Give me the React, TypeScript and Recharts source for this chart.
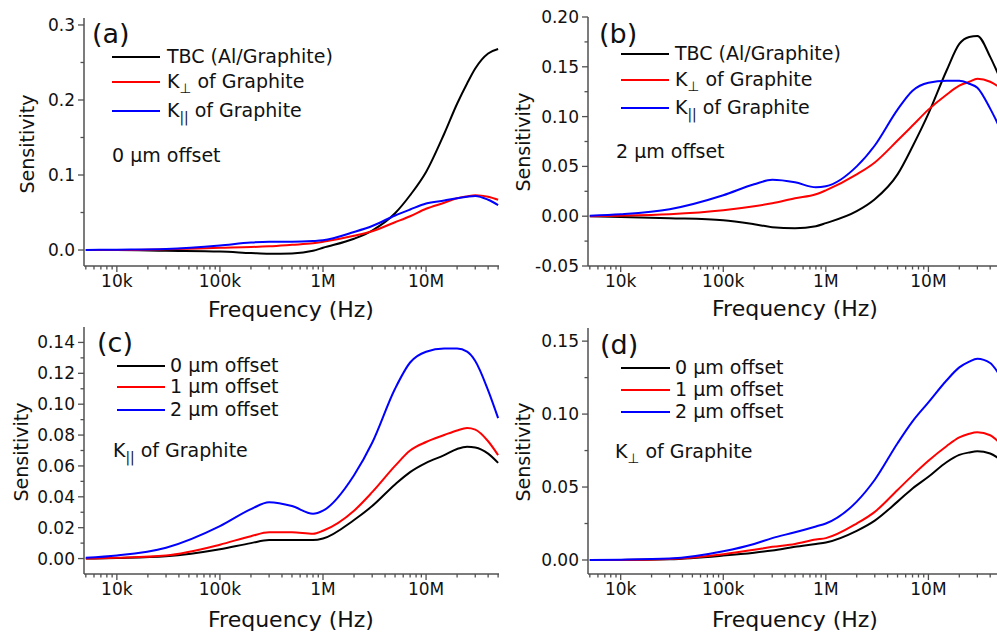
import React from 'react';
import { LineChart, Line, XAxis, YAxis } from 'recharts';

// ---------- data ----------
const FREQ = [5e3, 1e4, 3e4, 1e5, 2e5, 3e5, 5e5, 8e5, 1e6, 2e6, 3e6, 5e6, 7e6, 1e7, 1.5e7, 2e7, 2.5e7, 3e7, 4e7, 5e7];

// (a) 0 um offset
const A_TBC = [0, 0, -0.001, -0.002, -0.004, -0.005, -0.0045, -0.001, 0.003, 0.015, 0.026, 0.049, 0.073, 0.104, 0.155, 0.195, 0.222, 0.242, 0.262, 0.268];
const A_KPERP = [0, 0, 0.001, 0.003, 0.004, 0.005, 0.007, 0.009, 0.011, 0.019, 0.025, 0.037, 0.045, 0.055, 0.063, 0.069, 0.0715, 0.073, 0.071, 0.067];
const A_KPAR = [0, 0.0005, 0.0015, 0.006, 0.01, 0.011, 0.011, 0.012, 0.013, 0.024, 0.032, 0.046, 0.054, 0.062, 0.066, 0.069, 0.071, 0.072, 0.067, 0.06];

// (b) 2 um offset
const B_TBC = [0, -0.0007, -0.002, -0.004, -0.008, -0.011, -0.012, -0.01, -0.007, 0.005, 0.017, 0.042, 0.07, 0.103, 0.146, 0.173, 0.18, 0.181, 0.16, 0.138];
const B_KPERP = [0, 0.0005, 0.002, 0.006, 0.01, 0.013, 0.018, 0.022, 0.026, 0.042, 0.054, 0.076, 0.091, 0.107, 0.122, 0.131, 0.135, 0.138, 0.135, 0.129];
const B_KPAR = [0.0005, 0.002, 0.007, 0.021, 0.032, 0.0365, 0.034, 0.029, 0.03, 0.05, 0.071, 0.107, 0.126, 0.134, 0.136, 0.136, 0.133, 0.129, 0.108, 0.088];

// (c) K|| of graphite, offsets 0/1/2 um
const C_OFF0 = [0, 0.0004, 0.0015, 0.006, 0.01, 0.012, 0.012, 0.012, 0.013, 0.025, 0.034, 0.048, 0.056, 0.062, 0.067, 0.071, 0.0725, 0.072, 0.068, 0.062];
const C_OFF1 = [0, 0.0005, 0.002, 0.009, 0.0145, 0.017, 0.017, 0.016, 0.018, 0.031, 0.043, 0.06, 0.07, 0.0755, 0.08, 0.083, 0.0845, 0.0835, 0.076, 0.067];
const C_OFF2 = [0.0005, 0.002, 0.007, 0.021, 0.032, 0.0365, 0.034, 0.029, 0.031, 0.054, 0.075, 0.11, 0.127, 0.134, 0.136, 0.136, 0.134, 0.128, 0.109, 0.091];

// (d) K_perp of graphite, offsets 0/1/2 um
const D_OFF0 = [0, 0, 0.0005, 0.003, 0.005, 0.0065, 0.009, 0.011, 0.012, 0.02, 0.027, 0.04, 0.049, 0.057, 0.067, 0.072, 0.0737, 0.0745, 0.073, 0.069];
const D_OFF1 = [0, 0, 0.0007, 0.004, 0.007, 0.009, 0.011, 0.014, 0.015, 0.025, 0.033, 0.048, 0.058, 0.068, 0.078, 0.084, 0.0865, 0.0875, 0.0855, 0.08];
const D_OFF2 = [0, 0.0002, 0.001, 0.006, 0.011, 0.015, 0.019, 0.023, 0.025, 0.04, 0.055, 0.08, 0.095, 0.108, 0.123, 0.132, 0.136, 0.138, 0.135, 0.126];

// ---------- ticks ----------
const X_MAJOR = [1e4, 1e5, 1e6, 1e7];
const X_LABELS = ['10k', '100k', '1M', '10M'];
const X_MINOR: number[] = [];
[1e3, 1e4, 1e5, 1e6, 1e7].forEach((d) => {
  for (let k = 2; k <= 9; k++) {
    const v = k * d;
    if (v >= 4.9e3 && v <= 5.05e7) X_MINOR.push(v);
  }
});
const X_DOMAIN = [4.8e3, 5.1e7];

const A_YMAJOR = [0, 0.1, 0.2, 0.3];
const A_YMINOR = [0.05, 0.15, 0.25];
const B_YMAJOR = [-0.05, 0, 0.05, 0.1, 0.15, 0.2];
const B_YMINOR = [-0.025, 0.025, 0.075, 0.125, 0.175];
const C_YMAJOR = [0, 0.02, 0.04, 0.06, 0.08, 0.1, 0.12, 0.14];
const C_YMINOR = [0.01, 0.03, 0.05, 0.07, 0.09, 0.11, 0.13];
const D_YMAJOR = [0, 0.05, 0.1, 0.15];
const D_YMINOR = [0.025, 0.075, 0.125];

const FONT = "'DejaVu Sans', 'Liberation Sans', sans-serif";
const AX = '#505050';
const TXT = '#111';

const Y_AXIS_W = 60;
const X_AXIS_H = 40;

function rows(series: number[][]) {
  return FREQ.map((f, i) => {
    const r: any = { f };
    series.forEach((s, j) => (r['s' + j] = s[i]));
    return r;
  });
}

function XTick(props: any) {
  const { x, y, payload } = props;
  const v = payload.value;
  const idx = X_MAJOR.findIndex((m) => Math.abs(m - v) / m < 1e-6);
  const major = idx >= 0;
  return (
    <g>
      <line x1={x} x2={x} y1={y} y2={y + (major ? 6 : 3.5)} stroke={AX} strokeWidth={1.3} />
      {major && (
        <text x={x} y={y + 21} textAnchor="middle" fontSize={17} fontFamily={FONT} fill={TXT}>
          {X_LABELS[idx]}
        </text>
      )}
    </g>
  );
}

function makeYTick(majors: number[], digits: number) {
  return (props: any) => {
    const { x, y, payload } = props;
    const v = payload.value;
    const major = majors.some((m) => Math.abs(m - v) < 1e-9);
    return (
      <g>
        <line x1={x} x2={x - (major ? 6 : 3.5)} y1={y} y2={y} stroke={AX} strokeWidth={1.3} />
        {major && (
          <text x={x - 9} y={y + 6} textAnchor="end" fontSize={17} fontFamily={FONT} fill={TXT}>
            {v.toFixed(digits)}
          </text>
        )}
      </g>
    );
  };
}

type PanelProps = {
  left: number;
  top: number;
  width: number;
  height: number;
  plot: { top: number; right: number; bottom: number; left: number };
  yDomain: number[];
  yMajor: number[];
  yMinor: number[];
  digits: number;
  series: number[][];
  colors: string[];
};

function Panel(p: PanelProps) {
  const data = rows(p.series);
  const YT = makeYTick(p.yMajor, p.digits);
  const margin = {
    top: p.plot.top,
    right: p.plot.right,
    bottom: p.plot.bottom - X_AXIS_H,
    left: p.plot.left - Y_AXIS_W,
  };
  return (
    <div style={{ position: 'absolute', left: p.left, top: p.top, width: p.width, height: p.height }}>
      <LineChart width={p.width} height={p.height} data={data} margin={margin}>
        <XAxis
          dataKey="f"
          type="number"
          scale="log"
          domain={X_DOMAIN}
          allowDataOverflow
          ticks={[...X_MAJOR, ...X_MINOR]}
          interval={0}
          tick={<XTick />}
          tickSize={0}
          tickMargin={0}
          tickLine={false}
          height={X_AXIS_H}
          axisLine={{ stroke: AX, strokeWidth: 1.5 }}
        />
        <YAxis
          type="number"
          domain={p.yDomain}
          allowDataOverflow
          ticks={[...p.yMajor, ...p.yMinor]}
          interval={0}
          tick={<YT />}
          tickSize={0}
          tickMargin={0}
          tickLine={false}
          width={Y_AXIS_W}
          axisLine={{ stroke: AX, strokeWidth: 1.5 }}
        />
        {p.series.map((_, j) => (
          <Line
            key={j}
            dataKey={'s' + j}
            type="monotone"
            stroke={p.colors[j]}
            strokeWidth={2}
            dot={false}
            isAnimationActive={false}
          />
        ))}
      </LineChart>
    </div>
  );
}

const COLORS = ['#000000', '#ff0000', '#0000ff'];

function KLabel({ x, y, sub, size }: { x: number; y: number; sub: string; size: number }) {
  return (
    <text x={x} y={y} fontSize={size} fontFamily={FONT} fill={TXT}>
      K
      <tspan fontSize={size * 0.72} dy={5}>
        {sub}
      </tspan>
      <tspan dy={-5} fontSize={size}>
        {' of Graphite'}
      </tspan>
    </text>
  );
}

function LegendRow({ x1, x2, y, color }: { x1: number; x2: number; y: number; color: string }) {
  return <line x1={x1} x2={x2} y1={y} y2={y} stroke={color} strokeWidth={2} />;
}

function Overlay() {
  const legendSize = 19;
  return (
    <svg width={997} height={635} style={{ position: 'absolute', left: 0, top: 0, pointerEvents: 'none' }}>
      {/* panel letters */}
      <text x={92} y={43} fontSize={27} fontFamily={FONT} fill={TXT}>(a)</text>
      <text x={599} y={43} fontSize={27} fontFamily={FONT} fill={TXT}>(b)</text>
      <text x={97} y={352} fontSize={27} fontFamily={FONT} fill={TXT}>(c)</text>
      <text x={600} y={354} fontSize={27} fontFamily={FONT} fill={TXT}>(d)</text>

      {/* axis titles */}
      {[
        [291, 317],
        [795, 316],
        [291, 627],
        [795, 627],
      ].map(([cx, cy], i) => (
        <text key={'fx' + i} x={cx} y={cy} textAnchor="middle" fontSize={22} fontFamily={FONT} fill={TXT}>
          Frequency (Hz)
        </text>
      ))}
      {[
        [34, 144],
        [530, 142],
        [28, 452],
        [530, 452],
      ].map(([cx, cy], i) => (
        <text
          key={'sy' + i}
          x={cx}
          y={cy}
          textAnchor="middle"
          fontSize={19}
          fontFamily={FONT}
          fill={TXT}
          transform={`rotate(-90 ${cx} ${cy})`}
        >
          Sensitivity
        </text>
      ))}

      {/* legend (a) */}
      <LegendRow x1={112} x2={160} y={57} color={COLORS[0]} />
      <LegendRow x1={112} x2={160} y={82} color={COLORS[1]} />
      <LegendRow x1={112} x2={160} y={111} color={COLORS[2]} />
      <text x={167} y={63} fontSize={legendSize} fontFamily={FONT} fill={TXT}>TBC (Al/Graphite)</text>
      <KLabel x={167} y={88} sub="⊥" size={legendSize} />
      <KLabel x={167} y={117} sub="||" size={legendSize} />
      <text x={112} y={162} fontSize={legendSize} fontFamily={FONT} fill={TXT}>0 µm offset</text>

      {/* legend (b) */}
      <LegendRow x1={621} x2={669} y={54} color={COLORS[0]} />
      <LegendRow x1={621} x2={669} y={80} color={COLORS[1]} />
      <LegendRow x1={621} x2={669} y={108} color={COLORS[2]} />
      <text x={675} y={60} fontSize={legendSize} fontFamily={FONT} fill={TXT}>TBC (Al/Graphite)</text>
      <KLabel x={675} y={86} sub="⊥" size={legendSize} />
      <KLabel x={675} y={114} sub="||" size={legendSize} />
      <text x={616} y={158} fontSize={legendSize} fontFamily={FONT} fill={TXT}>2 µm offset</text>

      {/* legend (c) */}
      <LegendRow x1={117} x2={165} y={366} color={COLORS[0]} />
      <LegendRow x1={117} x2={165} y={387} color={COLORS[1]} />
      <LegendRow x1={117} x2={165} y={410} color={COLORS[2]} />
      <text x={170} y={372} fontSize={legendSize} fontFamily={FONT} fill={TXT}>0 µm offset</text>
      <text x={170} y={393} fontSize={legendSize} fontFamily={FONT} fill={TXT}>1 µm offset</text>
      <text x={170} y={416} fontSize={legendSize} fontFamily={FONT} fill={TXT}>2 µm offset</text>
      <KLabel x={113} y={457} sub="||" size={legendSize} />

      {/* legend (d) */}
      <LegendRow x1={621} x2={670} y={368} color={COLORS[0]} />
      <LegendRow x1={621} x2={670} y={390} color={COLORS[1]} />
      <LegendRow x1={621} x2={670} y={412} color={COLORS[2]} />
      <text x={675} y={374} fontSize={legendSize} fontFamily={FONT} fill={TXT}>0 µm offset</text>
      <text x={675} y={396} fontSize={legendSize} fontFamily={FONT} fill={TXT}>1 µm offset</text>
      <text x={675} y={418} fontSize={legendSize} fontFamily={FONT} fill={TXT}>2 µm offset</text>
      <KLabel x={615} y={458} sub="⊥" size={legendSize} />
    </svg>
  );
}

export default function App() {
  return (
    <div
      style={{
        position: 'absolute',
        left: 0,
        top: 0,
        width: 997,
        height: 635,
        overflow: 'hidden',
        background: '#fff',
      }}
    >
      <Panel
        left={0}
        top={0}
        width={500}
        height={320}
        plot={{ top: 18, right: 1, bottom: 54, left: 84 }}
        yDomain={[-0.0213, 0.3093]}
        yMajor={A_YMAJOR}
        yMinor={A_YMINOR}
        digits={1}
        series={[A_TBC, A_KPERP, A_KPAR]}
        colors={COLORS}
      />
      <Panel
        left={497}
        top={0}
        width={510}
        height={320}
        plot={{ top: 17, right: 6, bottom: 54, left: 91 }}
        yDomain={[-0.05, 0.2]}
        yMajor={B_YMAJOR}
        yMinor={B_YMINOR}
        digits={2}
        series={[B_TBC, B_KPERP, B_KPAR]}
        colors={COLORS}
      />
      <Panel
        left={0}
        top={315}
        width={500}
        height={320}
        plot={{ top: 12, right: 1, bottom: 61, left: 84 }}
        yDomain={[-0.01, 0.15]}
        yMajor={C_YMAJOR}
        yMinor={C_YMINOR}
        digits={2}
        series={[C_OFF0, C_OFF1, C_OFF2]}
        colors={COLORS}
      />
      <Panel
        left={497}
        top={315}
        width={510}
        height={320}
        plot={{ top: 13, right: 6, bottom: 61, left: 91 }}
        yDomain={[-0.0096, 0.159]}
        yMajor={D_YMAJOR}
        yMinor={D_YMINOR}
        digits={2}
        series={[D_OFF0, D_OFF1, D_OFF2]}
        colors={COLORS}
      />
      <Overlay />
    </div>
  );
}
